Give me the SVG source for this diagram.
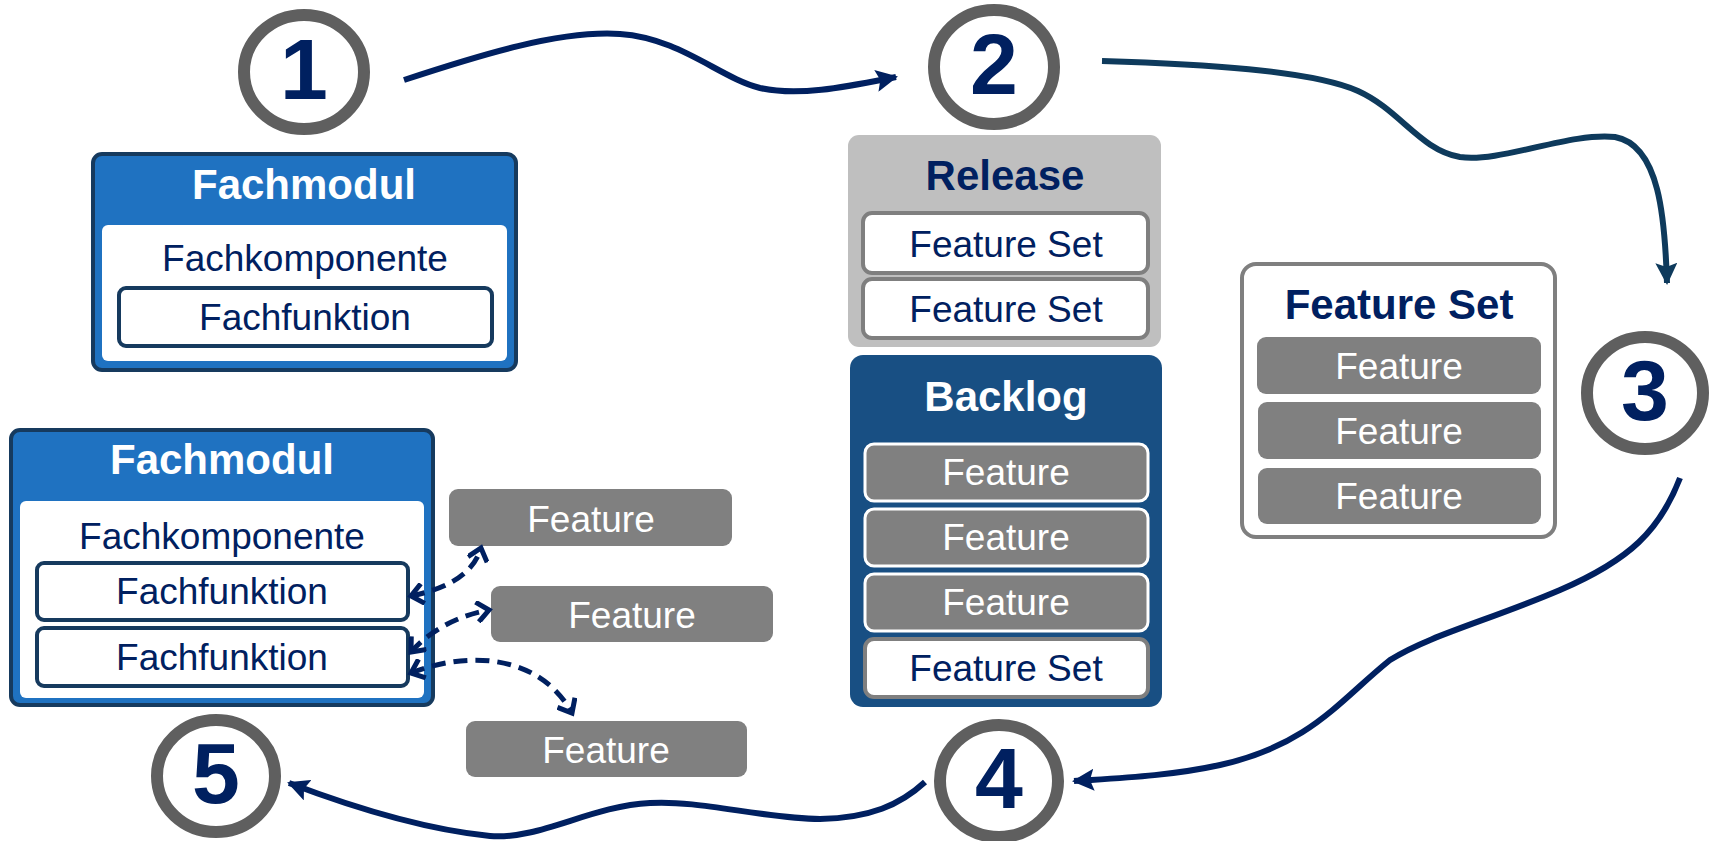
<svg xmlns="http://www.w3.org/2000/svg" width="1711" height="841" viewBox="0 0 1711 841">
<style>
text{font-family:"Liberation Sans",Arial,sans-serif;text-anchor:middle}
.num{font-size:86px;font-weight:bold;fill:#002060}
.circ{fill:#fff;stroke:#5f5f5f;stroke-width:12}
.ttl{font-size:42px;font-weight:bold}
.w{fill:#fff}
.n{fill:#002060}
.t36{font-size:37px}
.fm{fill:#1f72c1;stroke:#163a5e;stroke-width:4}
.fmin{fill:#fff}
.ff{fill:#fff;stroke:#163a5e;stroke-width:4}
.feat{fill:#808080}
.featw{fill:#808080;stroke:#fff;stroke-width:3}
.fs{fill:#fff;stroke:#7f7f7f;stroke-width:4}
.conn{fill:none;stroke:#002060;stroke-width:6}
.dash{fill:none;stroke:#002060;stroke-width:5;stroke-dasharray:14 8}
</style>
<defs>
<marker id="ah" markerUnits="userSpaceOnUse" markerWidth="24" markerHeight="22" refX="20" refY="11" orient="auto">
<path d="M0,0 L22,11 L0,22 L4,11 z" fill="#002060"/>
</marker>
<marker id="ah2" markerUnits="userSpaceOnUse" markerWidth="24" markerHeight="22" refX="20" refY="11" orient="auto">
<path d="M0,0 L22,11 L0,22 L4,11 z" fill="#0e3a5c"/>
</marker>
<marker id="oa" markerUnits="userSpaceOnUse" markerWidth="18" markerHeight="22" refX="14" refY="11" orient="auto-start-reverse">
<path d="M2,1 L14,11 L2,21" fill="none" stroke="#002060" stroke-width="5"/>
</marker>
</defs>

<g id="step1">
<ellipse class="circ" cx="304" cy="72" rx="60" ry="57"/>
<text class="num" x="304" y="99">1</text>
</g>
<g id="step2">
<ellipse class="circ" cx="994" cy="67" rx="60" ry="57"/>
<text class="num" x="994" y="94">2</text>
</g>
<g id="step3">
<ellipse class="circ" cx="1645" cy="393" rx="58" ry="56"/>
<text class="num" x="1645" y="420">3</text>
</g>
<g id="step4">
<ellipse class="circ" cx="999" cy="781" rx="59" ry="56"/>
<text class="num" x="999" y="808">4</text>
</g>
<g id="step5">
<ellipse class="circ" cx="216" cy="776" rx="59" ry="56"/>
<text class="num" x="216" y="803">5</text>
</g>

<g id="fachmodul1">
<rect class="fm" x="93" y="154" width="423" height="216" rx="9"/>
<text class="ttl w" x="304" y="199">Fachmodul</text>
<rect class="fmin" x="102" y="225" width="405" height="136" rx="6"/>
<text class="t36 n" x="305" y="271">Fachkomponente</text>
<rect class="ff" x="119" y="288" width="373" height="58" rx="7"/>
<text class="t36 n" x="305" y="330">Fachfunktion</text>
</g>

<g id="release">
<rect x="848" y="135" width="313" height="212" rx="11" fill="#bfbfbf"/>
<text class="ttl n" x="1005" y="190">Release</text>
<rect class="fs" x="863" y="213" width="285" height="60" rx="9"/>
<text class="t36 n" x="1006" y="257">Feature Set</text>
<rect class="fs" x="863" y="279" width="285" height="59" rx="9"/>
<text class="t36 n" x="1006" y="322">Feature Set</text>
</g>

<g id="backlog">
<rect x="850" y="355" width="312" height="352" rx="13" fill="#184f83"/>
<text class="ttl w" x="1006" y="411">Backlog</text>
<rect class="featw" x="865" y="444" width="283" height="57" rx="9"/>
<text class="t36 w" x="1006" y="485">Feature</text>
<rect class="featw" x="865" y="509" width="283" height="57" rx="9"/>
<text class="t36 w" x="1006" y="550">Feature</text>
<rect class="featw" x="865" y="574" width="283" height="57" rx="9"/>
<text class="t36 w" x="1006" y="615">Feature</text>
<rect class="fs" x="865" y="639" width="283" height="58" rx="9"/>
<text class="t36 n" x="1006" y="681">Feature Set</text>
</g>

<g id="featureset">
<rect class="fs" x="1242" y="264" width="313" height="273" rx="14"/>
<text class="ttl n" x="1399" y="319">Feature Set</text>
<rect class="feat" x="1257" y="337" width="284" height="57" rx="9"/>
<text class="t36 w" x="1399" y="379">Feature</text>
<rect class="feat" x="1258" y="402" width="283" height="57" rx="9"/>
<text class="t36 w" x="1399" y="444">Feature</text>
<rect class="feat" x="1258" y="468" width="283" height="56" rx="9"/>
<text class="t36 w" x="1399" y="509">Feature</text>
</g>

<g id="fachmodul2">
<rect class="fm" x="11" y="430" width="422" height="275" rx="9"/>
<text class="ttl w" x="222" y="474">Fachmodul</text>
<rect class="fmin" x="20" y="501" width="404" height="197" rx="6"/>
<text class="t36 n" x="222" y="549">Fachkomponente</text>
<rect class="ff" x="37" y="563" width="371" height="57" rx="7"/>
<text class="t36 n" x="222" y="604">Fachfunktion</text>
<rect class="ff" x="37" y="628" width="371" height="58" rx="7"/>
<text class="t36 n" x="222" y="670">Fachfunktion</text>
</g>

<g id="feature_a">
<rect class="feat" x="449" y="489" width="283" height="57" rx="9"/>
<text class="t36 w" x="591" y="532">Feature</text>
</g>
<g id="feature_b">
<rect class="feat" x="491" y="586" width="282" height="56" rx="9"/>
<text class="t36 w" x="632" y="628">Feature</text>
</g>
<g id="feature_c">
<rect class="feat" x="466" y="721" width="281" height="56" rx="9"/>
<text class="t36 w" x="606" y="763">Feature</text>
</g>

<g id="connectors">
<path class="conn" d="M404 80 C480 55 560 30 620 34 C680 38 720 78 760 88 C800 97 850 86 896 77" marker-end="url(#ah)"/>
<path class="conn" style="stroke:#0e3a5c" d="M1102 61 C1200 64 1310 70 1358 91 C1400 110 1420 150 1460 157 C1500 163 1570 132 1615 137 C1660 145 1665 220 1667 283" marker-end="url(#ah2)"/>
<path class="conn" d="M1680 478 C1660 530 1630 560 1560 590 C1490 620 1430 635 1390 660 C1340 700 1310 745 1220 765 C1170 776 1120 778 1074 781" marker-end="url(#ah)"/>
<path class="conn" d="M925 782 C900 805 870 818 820 819 C760 818 700 800 650 803 C590 806 540 840 490 836 C430 830 360 810 289 783" marker-end="url(#ah)"/>
<path class="dash" d="M411 596 C440 590 472 578 481 548" marker-start="url(#oa)" marker-end="url(#oa)"/>
<path class="dash" d="M411 652 C430 630 460 615 489 610" marker-start="url(#oa)" marker-end="url(#oa)"/>
<path class="dash" d="M411 673 C470 650 540 655 572 713" marker-start="url(#oa)" marker-end="url(#oa)"/>
</g>
</svg>
